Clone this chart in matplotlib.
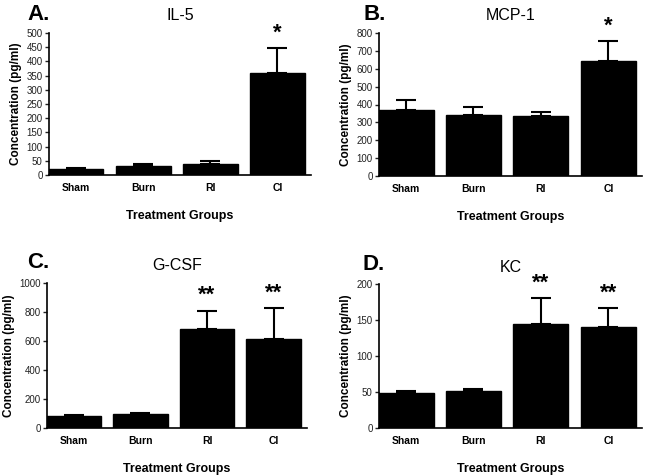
import matplotlib.pyplot as plt
import numpy as np

plt.rcParams['font.family'] = ['Liberation Sans', 'DejaVu Sans']

groups = ['Sham', 'Burn', 'RI', 'CI']

il5_mean = [20, 30, 40, 358]
il5_err = [3, 7, 8, 90]
il5_stars = ['', '', '', '*']

mcp1_mean = [370, 340, 335, 645]
mcp1_err = [55, 45, 25, 110]
mcp1_stars = ['', '', '', '*']

gcsf_mean = [80, 95, 680, 615]
gcsf_err = [8, 8, 130, 210]
gcsf_stars = ['', '', '**', '**']

kc_mean = [49, 51, 145, 140]
kc_err = [3, 3, 36, 27]
kc_stars = ['', '', '**', '**']

W, H = 651, 476
fig = plt.figure(figsize=(W / 100, H / 100), dpi=100)


def px_axes(left, top, right, bottom):
    return fig.add_axes([left / W, 1 - bottom / H, (right - left) / W, (bottom - top) / H])


# letter, title, data, y max, y step, axes box (px), letter pos (px)
panels = [
    ('A.', 'IL-5', il5_mean, il5_err, il5_stars, 500, 50, (49, 33, 311, 175), (27, 4)),
    ('B.', 'MCP-1', mcp1_mean, mcp1_err, mcp1_stars, 800, 100, (379, 33, 642, 176), (364, 4)),
    ('C.', 'G-CSF', gcsf_mean, gcsf_err, gcsf_stars, 1000, 200, (47, 283, 307, 428), (27, 252)),
    ('D.', 'KC', kc_mean, kc_err, kc_stars, 200, 50, (379, 284, 642, 428), (362, 254)),
]

x = np.arange(len(groups))
for letter, title, mean, err, stars, ymax, step, box, lpos in panels:
    ax = px_axes(*box)
    ax.bar(x, mean, width=0.82, color='black', edgecolor='black')
    ax.errorbar(x, mean, yerr=[np.zeros(len(err)), err], fmt='none',
                ecolor='black', elinewidth=1.5, capsize=7, capthick=1.5)
    for xi, m, e, s in zip(x, mean, err, stars):
        if s:
            ax.text(xi, m + e + ymax * 0.03, s, ha='center', va='bottom',
                    fontsize=16, fontweight='bold')
    ax.set_ylim(0, ymax)
    ax.set_xlim(-0.4, 3.5)
    ax.set_yticks(np.arange(0, ymax + 1, step))
    ax.set_xticks(x)
    ax.set_xticklabels(groups, fontweight='bold', fontsize=7.5)
    ax.tick_params(axis='x', length=0, pad=6)
    ax.tick_params(axis='y', labelsize=7, length=3, width=1, pad=1.5, colors='#222222')
    ax.spines['top'].set_visible(False)
    ax.spines['right'].set_visible(False)
    ax.spines['left'].set_linewidth(1.2)
    ax.spines['bottom'].set_linewidth(1.2)
    ax.set_ylabel('Concentration (pg/ml)', fontweight='bold', fontsize=8.5, labelpad=3)
    ax.set_xlabel('Treatment Groups', fontweight='bold', fontsize=9, labelpad=12)
    ax.set_title(title, fontsize=11.5, pad=9)
    fig.text(lpos[0] / W, 1 - lpos[1] / H, letter, fontsize=16,
             fontweight='bold', ha='left', va='top')

fig.savefig('out.png', dpi=100)
